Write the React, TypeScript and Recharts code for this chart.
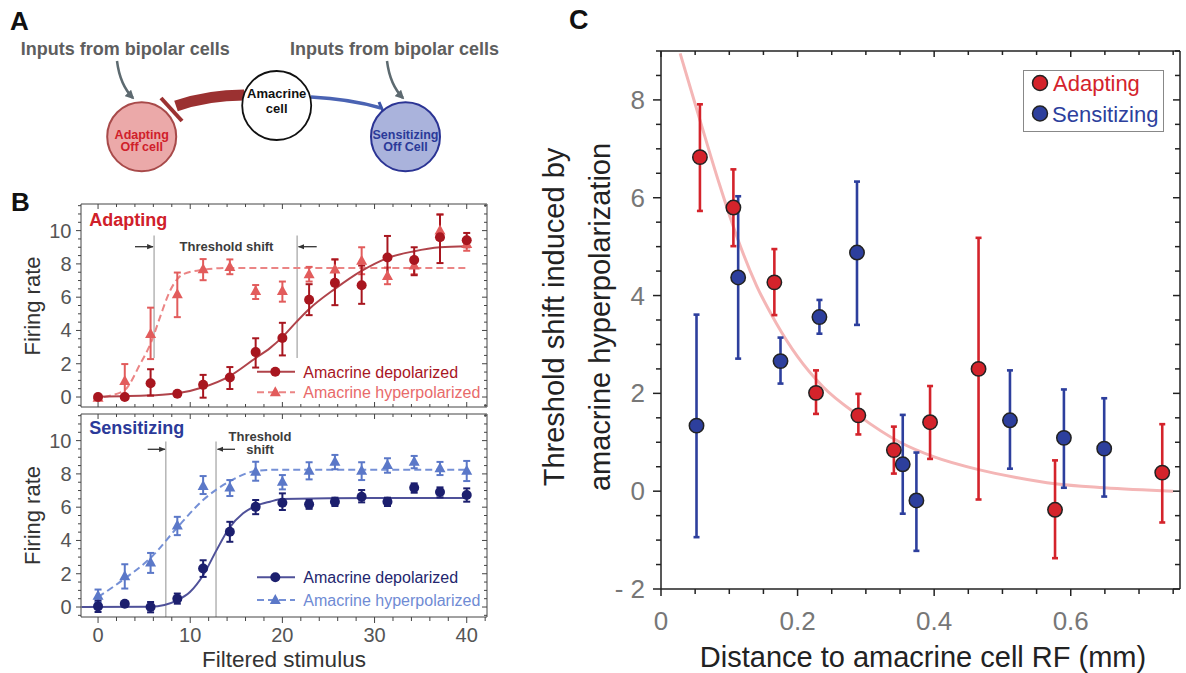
import React from "react"
import { ComposedChart, Scatter, Line, XAxis, YAxis, ErrorBar, ReferenceLine } from "recharts"

const FONT = "'Liberation Sans', Arial, Helvetica, sans-serif"

// ---------- Panel B: firing rate vs filtered stimulus ----------
const stim = [0, 2.9, 5.7, 8.6, 11.4, 14.3, 17.1, 20, 22.9, 25.7, 28.6, 31.4, 34.3, 37.1, 40]

// adapting cell
const adDepY = [0, 0.0, 0.83, 0.2, 0.73, 1.17, 2.7, 3.55, 5.85, 6.86, 6.72, 8.39, 8.23, 9.6, 9.42]
const adDepLo = [0, 0, 0.08, 0.1, -0.04, 0.48, 1.77, 2.5, 4.92, 5.52, 5.6, 7.18, 7.32, 8.05, 9.0]
const adDepHi = [0, 0, 1.67, 0.3, 1.33, 1.8, 3.53, 4.46, 6.78, 8.27, 7.9, 9.68, 9.0, 10.97, 9.86]
const adHypY = [-0.05, 0.97, 3.79, 6.17, 7.68, 7.82, 6.37, 6.37, 7.38, 7.66, 8.19, 7.28, 7.9, 10.0, 9.2]
const adHypLo = [-0.05, 0.02, 2.28, 4.8, 7.02, 7.38, 5.89, 5.73, 6.94, 6.98, 7.38, 6.78, 7.38, 9.44, 8.79]
const adHypHi = [-0.05, 1.98, 5.37, 7.48, 8.29, 8.27, 6.73, 6.94, 7.82, 8.27, 9.0, 7.78, 8.39, 10.97, 9.4]
const adDepFitX = [0, 5.7, 8.6, 11.4, 14.2, 17.1, 18.65, 20, 21.5, 22.85, 25.7, 28.5, 31.4, 34.2, 37.1, 40]
const adDepFitY = [0.02, 0.1, 0.22, 0.59, 1.23, 2.34, 2.94, 3.6, 4.5, 5.26, 6.5, 7.55, 8.35, 8.75, 9.0, 9.06]
const adHypFitX = [-0.54, 1.3, 2.9, 4.53, 5.8, 6.7, 7.8, 9.23, 11.04, 14.2, 20, 30, 40]
const adHypFitY = [-0.1, 0.08, 0.42, 1.94, 3.35, 4.76, 6.37, 7.38, 7.62, 7.76, 7.76, 7.76, 7.76]

// sensitizing cell
const seDepY = [0.04, 0.2, 0.0, 0.5, 2.31, 4.52, 6.02, 6.27, 6.17, 6.33, 6.63, 6.33, 7.17, 6.91, 6.73]
const seDepLo = [-0.3, 0.1, -0.32, 0.2, 1.81, 3.92, 5.58, 5.83, 5.9, 6.07, 6.29, 6.07, 6.87, 6.59, 6.33]
const seDepHi = [0.4, 0.3, 0.3, 0.81, 2.81, 5.12, 6.43, 6.83, 6.43, 6.57, 7.03, 6.57, 7.43, 7.19, 7.13]
const seHypY = [0.68, 1.85, 2.67, 4.9, 7.27, 7.19, 8.13, 7.53, 8.19, 8.73, 8.19, 8.54, 8.73, 8.34, 8.19]
const seHypLo = [0.3, 1.11, 2.05, 4.32, 6.79, 6.67, 7.59, 7.07, 7.67, 8.28, 7.63, 8.07, 8.34, 7.93, 7.57]
const seHypHi = [1.05, 2.57, 3.25, 5.42, 7.87, 7.63, 8.73, 7.93, 8.7, 9.14, 8.7, 8.94, 9.08, 8.72, 8.78]
const seDepFitX = [-1.8, 5.7, 7.2, 8.58, 9.97, 11.4, 12.86, 14.2, 15.74, 17.1, 18.65, 20, 30, 40]
const seDepFitY = [0.0, 0.02, 0.12, 0.4, 0.9, 1.91, 3.42, 4.72, 5.63, 6.07, 6.33, 6.49, 6.55, 6.55]
const seHypFitX = [0, 2.9, 5.8, 8.5, 11.4, 14.2, 17.1, 19.4, 25, 40]
const seHypFitY = [0.6, 1.71, 3.01, 4.72, 6.43, 7.53, 8.17, 8.25, 8.25, 8.25]

// threshold markers: [left x, right x]
const adShift = [6.08, 21.6]
const seShift = [7.35, 12.8]

const bTicksX = [0, 2, 4, 6, 8, 10, 12, 14, 16, 18, 20, 22, 24, 26, 28, 30, 32, 34, 36, 38, 40, 42]
const bTicksY = [-0.5, 0, 0.5, 1, 1.5, 2, 2.5, 3, 3.5, 4, 4.5, 5, 5.5, 6, 6.5, 7, 7.5, 8, 8.5, 9, 9.5, 10, 10.5, 11, 11.5]

// ---------- Panel C: threshold shift vs distance ----------
const adaptX = [0.057, 0.106, 0.166, 0.227, 0.289, 0.341, 0.394, 0.465, 0.577, 0.734]
const adaptY = [6.83, 5.8, 4.27, 2.01, 1.55, 0.84, 1.41, 2.5, -0.38, 0.38]
const adaptLo = [5.73, 5.01, 3.6, 1.58, 1.16, 0.36, 0.66, -0.17, -1.37, -0.64]
const adaptHi = [7.91, 6.58, 4.95, 2.47, 1.99, 1.32, 2.15, 5.18, 0.63, 1.37]
const sensX = [0.052, 0.113, 0.175, 0.232, 0.287, 0.354, 0.374, 0.511, 0.59, 0.649]
const sensY = [1.34, 4.37, 2.66, 3.56, 4.88, 0.55, -0.19, 1.45, 1.09, 0.87]
const sensLo = [-0.94, 2.71, 2.2, 3.22, 3.4, -0.46, -1.22, 0.46, 0.07, -0.11]
const sensHi = [3.61, 6.03, 3.14, 3.91, 6.33, 1.56, 0.79, 2.47, 2.08, 1.9]
const fitX = [0.028, 0.057, 0.085, 0.113, 0.14, 0.169, 0.2, 0.2375, 0.289, 0.35, 0.4, 0.465, 0.52, 0.577, 0.649, 0.75]
const fitY = [8.95, 7.59, 6.3, 5.13, 4.2, 3.43, 2.75, 2.13, 1.55, 1.0, 0.7, 0.44, 0.28, 0.15, 0.07, 0.0]

const cTicksX = [0, 0.05, 0.1, 0.15, 0.2, 0.25, 0.3, 0.35, 0.4, 0.45, 0.5, 0.55, 0.6, 0.65, 0.7, 0.75]
const cTicksY = [-2, -1.5, -1, -0.5, 0, 0.5, 1, 1.5, 2, 2.5, 3, 3.5, 4, 4.5, 5, 5.5, 6, 6.5, 7, 7.5, 8, 8.5, 9]

const withErr = (xs: number[], ys: number[], lo: number[], hi: number[]) =>
  xs.map((x, i) => ({ x, y: ys[i], err: [ys[i] - lo[i], hi[i] - ys[i]] }))
const curve = (xs: number[], ys: number[]) => xs.map((x, i) => ({ x, y: ys[i] }))

// ---------- tick helper ----------
type TickOpts = {
  side: "bottom" | "top" | "left" | "right"
  major: (v: number) => boolean
  majorLen: number
  minorLen: number
  out?: boolean
  label?: (v: number) => string
  gap?: number
  size?: number
  color?: string
  stroke?: string
  width?: number
}

const tickFor = (o: TickOpts) => (p: any) => {
  const v = p.payload.value
  const big = o.major(v)
  const len = big ? o.majorLen : o.minorLen
  const d = o.out ? 1 : -1
  const { x, y } = p
  const txt = o.label && big ? o.label(v) : null
  const ln = { stroke: o.stroke ?? "#444", strokeWidth: o.width ?? 1 }
  const tp = { fill: o.color ?? "#555", fontSize: o.size ?? 20, fontFamily: FONT }
  const gap = o.gap ?? 0
  if (o.side === "bottom")
    return (
      <g>
        <line x1={x} x2={x} y1={y} y2={y + d * len} {...ln} />
        {txt && <text x={x} y={y + gap} textAnchor="middle" dominantBaseline="central" {...tp}>{txt}</text>}
      </g>
    )
  if (o.side === "top") return <line x1={x} x2={x} y1={y} y2={y - d * len} {...ln} />
  if (o.side === "left")
    return (
      <g>
        <line x1={x} x2={x - d * len} y1={y} y2={y} {...ln} />
        {txt && <text x={x - gap} y={y} textAnchor="end" dominantBaseline="central" {...tp}>{txt}</text>}
      </g>
    )
  return <line x1={x} x2={x + d * len} y1={y} y2={y} {...ln} />
}

const dotShape = (fill: string, r: number, stroke = "none", sw = 0) => (p: any) =>
  <circle cx={p.cx} cy={p.cy} r={r} fill={fill} stroke={stroke} strokeWidth={sw} />
const triPath = (cx: number, cy: number) => `M${cx},${cy - 6} L${cx + 5.5},${cy + 4} L${cx - 5.5},${cy + 4} Z`
const triShape = (fill: string) => (p: any) => <path d={triPath(p.cx, p.cy)} fill={fill} />

const evenInt = (v: number) => Number.isInteger(v) && v % 2 === 0
const tens = (v: number) => v % 10 === 0

interface FiringProps {
  depol: any[]
  hyper: any[]
  depolFit: any[]
  hyperFit: any[]
  depolColor: string
  depolLine: string
  hyperColor: string
  hyperLine: string
  shift: number[]
  shiftLow: number
  shiftHigh: number
  height: number
  xAxisHeight: number
  showX: boolean
}

const FiringPanel = (p: FiringProps) => (
  <ComposedChart width={500} height={p.height} margin={{ top: 14, right: 13, bottom: 0, left: 0 }}>
    <XAxis
      type="number" dataKey="x" domain={[-1.85, 42.2]} allowDataOverflow ticks={bTicksX} interval={0}
      tickSize={0} tickMargin={0} tickLine={false} height={p.xAxisHeight} axisLine={{ stroke: "#444" }}
      tick={tickFor({ side: "bottom", major: tens, majorLen: p.showX ? 6 : 5, minorLen: p.showX ? 4 : 3, out: p.showX,
        label: p.showX ? (v) => String(v) : undefined, gap: 18, size: 20, color: "#555" })}
    />
    <XAxis
      xAxisId="t" orientation="top" mirror type="number" dataKey="x" domain={[-1.85, 42.2]} allowDataOverflow
      ticks={bTicksX} interval={0} tickSize={0} tickMargin={0} tickLine={false} axisLine={{ stroke: "#444" }}
      tick={tickFor({ side: "top", major: tens, majorLen: 5, minorLen: 3 })}
    />
    <YAxis
      type="number" dataKey="y" domain={[-0.6, 11.6]} allowDataOverflow ticks={bTicksY} interval={0}
      tickSize={0} tickMargin={0} tickLine={false} width={81} axisLine={{ stroke: "#444" }}
      tick={tickFor({ side: "left", major: evenInt, majorLen: 5, minorLen: 3, out: true, label: (v) => String(v), gap: 9.5, size: 20, color: "#555" })}
    />
    <YAxis
      yAxisId="r" orientation="right" mirror type="number" dataKey="y" domain={[-0.6, 11.6]} allowDataOverflow
      ticks={bTicksY} interval={0} tickSize={0} tickMargin={0} tickLine={false} axisLine={{ stroke: "#444" }}
      tick={tickFor({ side: "right", major: evenInt, majorLen: 5, minorLen: 3 })}
    />
    {p.shift.map((sx) => (
      <ReferenceLine key={sx} segment={[{ x: sx, y: p.shiftLow }, { x: sx, y: p.shiftHigh }]} stroke="#b5b5b5" strokeWidth={1.5} />
    ))}
    <Line data={p.hyperFit} dataKey="y" type="monotone" stroke={p.hyperLine} strokeWidth={2} strokeDasharray="7 4" dot={false} isAnimationActive={false} />
    <Line data={p.depolFit} dataKey="y" type="monotone" stroke={p.depolLine} strokeWidth={2} dot={false} isAnimationActive={false} />
    <Scatter data={p.hyper} shape={triShape(p.hyperColor)} isAnimationActive={false}>
      <ErrorBar dataKey="err" direction="y" width={3.5} stroke={p.hyperColor} strokeWidth={2} />
    </Scatter>
    <Scatter data={p.depol} shape={dotShape(p.depolColor, 5)} isAnimationActive={false}>
      <ErrorBar dataKey="err" direction="y" width={3.5} stroke={p.depolColor} strokeWidth={2} />
    </Scatter>
  </ComposedChart>
)

const RED = "#d4232b"
const BLUE = "#2d3f9d"
const fifth = (v: number) => Math.abs(v * 5 - Math.round(v * 5)) < 1e-9

const ShiftPanel = () => (
  <ComposedChart width={656} height={673} margin={{ top: 51, right: 6, bottom: 0, left: 0 }}>
    <XAxis
      type="number" dataKey="x" domain={[0, 0.76]} allowDataOverflow ticks={cTicksX} interval={0}
      tickSize={0} tickMargin={0} tickLine={false} height={84} axisLine={{ stroke: "#222", strokeWidth: 1.5 }}
      tick={tickFor({ side: "bottom", major: fifth, majorLen: 7, minorLen: 5, out: true, label: (v) => String(v),
        gap: 32, size: 26, color: "#777", stroke: "#222", width: 1.5 })}
    />
    <XAxis
      xAxisId="t" orientation="top" mirror type="number" dataKey="x" domain={[0, 0.76]} allowDataOverflow
      ticks={cTicksX} interval={0} tickSize={0} tickMargin={0} tickLine={false} axisLine={{ stroke: "#222", strokeWidth: 1.5 }}
      tick={tickFor({ side: "top", major: fifth, majorLen: 6, minorLen: 4, stroke: "#222", width: 1.5 })}
    />
    <YAxis
      type="number" dataKey="y" domain={[-2, 9]} allowDataOverflow ticks={cTicksY} interval={0}
      tickSize={0} tickMargin={0} tickLine={false} width={131} axisLine={{ stroke: "#222", strokeWidth: 1.5 }}
      tick={tickFor({ side: "left", major: evenInt, majorLen: 8, minorLen: 5, out: true,
        label: (v) => (v < 0 ? `- ${-v}` : String(v)), gap: 16, size: 26, color: "#777", stroke: "#222", width: 1.5 })}
    />
    <YAxis
      yAxisId="r" orientation="right" mirror type="number" dataKey="y" domain={[-2, 9]} allowDataOverflow
      ticks={cTicksY} interval={0} tickSize={0} tickMargin={0} tickLine={false} axisLine={{ stroke: "#222", strokeWidth: 1.5 }}
      tick={tickFor({ side: "right", major: evenInt, majorLen: 7, minorLen: 5, stroke: "#222", width: 1.5 })}
    />
    <Line data={curve(fitX, fitY)} dataKey="y" type="monotone" stroke="#f4b6b6" strokeWidth={3} dot={false} isAnimationActive={false} />
    <Scatter data={withErr(adaptX, adaptY, adaptLo, adaptHi)} shape={dotShape(RED, 7.2, "#222", 1.5)} isAnimationActive={false}>
      <ErrorBar dataKey="err" direction="y" width={3} stroke={RED} strokeWidth={2.6} />
    </Scatter>
    <Scatter data={withErr(sensX, sensY, sensLo, sensHi)} shape={dotShape(BLUE, 7.2, "#222", 1.5)} isAnimationActive={false}>
      <ErrorBar dataKey="err" direction="y" width={3} stroke={BLUE} strokeWidth={2.6} />
    </Scatter>
  </ComposedChart>
)

const LegendRows = ({ y1, y2, depolColor, depolLine, hyperColor, hyperLine, depolText, hyperText }: any) => (
  <g fontFamily={FONT} fontSize={16}>
    <line x1={257} x2={295} y1={y1} y2={y1} stroke={depolLine} strokeWidth={2} />
    <circle cx={275.3} cy={y1} r={5} fill={depolColor} />
    <text x={303.3} y={y1 + 5.8} fill={depolText}>Amacrine depolarized</text>
    <line x1={257} x2={295} y1={y2} y2={y2} stroke={hyperLine} strokeWidth={2} strokeDasharray="7 4" />
    <path d={triPath(275.3, y2)} fill={hyperColor} />
    <text x={303.3} y={y2 + 5.8} fill={hyperText}>Amacrine hyperpolarized</text>
  </g>
)

const Overlay = () => (
  <svg width={1186} height={673} style={{ position: "absolute", left: 0, top: 0, pointerEvents: "none" }} fontFamily={FONT}>
    <defs>
      <marker id="gh" viewBox="0 0 10 10" refX="8" refY="5" markerWidth="3.6" markerHeight="3.6" orient="auto">
        <path d="M0,0 L10,5 L0,10 z" fill="#5d6a70" />
      </marker>
      <marker id="bh" viewBox="0 0 10 10" refX="9" refY="5" markerWidth="5" markerHeight="5" orient="auto">
        <path d="M0,1 L10,5 L0,9 z" fill="#333" />
      </marker>
    </defs>

    {/* Panel A */}
    <text x={10} y={30} fontSize={26} fontWeight="bold" fill="#111">A</text>
    <text x={20.7} y={55} fontSize={18} fontWeight="bold" fill="#5e5e5e">Inputs from bipolar cells</text>
    <text x={290} y={55} fontSize={18} fontWeight="bold" fill="#5e5e5e">Inputs from bipolar cells</text>
    <path d="M117 61 Q 120 85 133 98" stroke="#5d6a70" strokeWidth={2.5} fill="none" markerEnd="url(#gh)" />
    <path d="M387 61 Q 390 85 403 98" stroke="#5d6a70" strokeWidth={2.5} fill="none" markerEnd="url(#gh)" />
    <path d="M244 95 Q 208 95 176 106" stroke="#9b3131" strokeWidth={11} fill="none" />
    <line x1={161} y1={98} x2={182} y2={121} stroke="#9b3131" strokeWidth={4} />
    <path d="M311 97 Q 350 99 381 108" stroke="#4a63b3" strokeWidth={3.5} fill="none" />
    <line x1={379} y1={102} x2={385} y2={116} stroke="#3d55a8" strokeWidth={3} />
    <circle cx={141.7} cy={136.7} r={34.5} fill="#eba9a9" stroke="#a84a4a" strokeWidth={2} />
    <circle cx={276.7} cy={105.5} r={34.5} fill="#fff" stroke="#111" strokeWidth={1.8} />
    <circle cx={405.5} cy={136.7} r={34.5} fill="#aab3dc" stroke="#2b3494" strokeWidth={2} />
    <g fontSize={12.5} fontWeight="bold" textAnchor="middle">
      <text x={141.7} y={138.5} fill="#d0202a">Adapting</text>
      <text x={141.7} y={150.7} fill="#d0202a">Off cell</text>
      <text x={276.7} y={97.5} fill="#111" fontSize={13}>Amacrine</text>
      <text x={276.7} y={113.3} fill="#111" fontSize={13}>cell</text>
      <text x={405.5} y={138.5} fill="#2b3a99">Sensitizing</text>
      <text x={405.5} y={150.7} fill="#2b3a99">Off Cell</text>
    </g>

    {/* Panel B */}
    <text x={11} y={211} fontSize={26} fontWeight="bold" fill="#111">B</text>
    <text x={89.3} y={225.7} fontSize={18} fontWeight="bold" fill="#d0202a">Adapting</text>
    <text x={89.3} y={434} fontSize={18} fontWeight="bold" fill="#2b3a99">Sensitizing</text>
    <text x={226.5} y={251} fontSize={13} fontWeight="bold" fill="#3c3c3c" textAnchor="middle">Threshold shift</text>
    <line x1={135} y1={246.7} x2={153} y2={246.7} stroke="#333" strokeWidth={1.3} markerEnd="url(#bh)" />
    <line x1={316.7} y1={246.7} x2={298.5} y2={246.7} stroke="#333" strokeWidth={1.3} markerEnd="url(#bh)" />
    <text x={260} y={441} fontSize={13} fontWeight="bold" fill="#3c3c3c" textAnchor="middle">Threshold</text>
    <text x={260} y={454} fontSize={13} fontWeight="bold" fill="#3c3c3c" textAnchor="middle">shift</text>
    <line x1={147.7} y1={449.3} x2={165} y2={449.3} stroke="#333" strokeWidth={1.3} markerEnd="url(#bh)" />
    <line x1={235} y1={449.3} x2={217.5} y2={449.3} stroke="#333" strokeWidth={1.3} markerEnd="url(#bh)" />
    <LegendRows y1={371.7} y2={392.3} depolColor="#a8161f" depolLine="#b0434a" hyperColor="#e25c5c" hyperLine="#eb8585" depolText="#a8161f" hyperText="#e86a6a" />
    <LegendRows y1={577.3} y2={600} depolColor="#1c1f6e" depolLine="#4f5199" hyperColor="#5b78c8" hyperLine="#7590d6" depolText="#23266e" hyperText="#6f8bd4" />
    <text transform="translate(40,306) rotate(-90)" fontSize={22} fill="#333" textAnchor="middle">Firing rate</text>
    <text transform="translate(40,515.5) rotate(-90)" fontSize={22} fill="#333" textAnchor="middle">Firing rate</text>
    <text x={284} y={666.7} fontSize={22.5} fill="#333" textAnchor="middle">Filtered stimulus</text>

    {/* Panel C */}
    <text x={569} y={29} fontSize={27} fontWeight="bold" fill="#111">C</text>
    <text transform="translate(564,317) rotate(-90)" fontSize={29} fill="#222" textAnchor="middle">Threshold shift induced by</text>
    <text transform="translate(610,317) rotate(-90)" fontSize={29} fill="#222" textAnchor="middle">amacrine hyperpolarization</text>
    <text x={923} y={666.7} fontSize={29} fill="#222" textAnchor="middle">Distance to amacrine cell RF (mm)</text>
    <rect x={1023.5} y={70.5} width={140} height={61} fill="#fff" stroke="#888" strokeWidth={1} />
    <circle cx={1040} cy={83} r={7.5} fill={RED} stroke="#222" strokeWidth={1.5} />
    <text x={1053} y={91} fontSize={22} fill={RED}>Adapting</text>
    <circle cx={1040} cy={113.5} r={7.5} fill={BLUE} stroke="#222" strokeWidth={1.5} />
    <text x={1052} y={121.5} fontSize={22} fill={BLUE}>Sensitizing</text>
  </svg>
)

export default function App() {
  return (
    <div style={{ position: "relative", width: 1186, height: 673, background: "#fff", overflow: "hidden" }}>
      <style>{"body{margin:0}"}</style>
      <div style={{ position: "absolute", left: 0, top: 190 }}>
        <FiringPanel
          depol={withErr(stim, adDepY, adDepLo, adDepHi)}
          hyper={withErr(stim, adHypY, adHypLo, adHypHi)}
          depolFit={curve(adDepFitX, adDepFitY)}
          hyperFit={curve(adHypFitX, adHypFitY)}
          depolColor="#a8161f" depolLine="#b0434a" hyperColor="#e25c5c" hyperLine="#eb8585"
          shift={adShift} shiftLow={2.34} shiftHigh={9.7}
          height={230} xAxisHeight={13} showX={false}
        />
      </div>
      <div style={{ position: "absolute", left: 0, top: 400 }}>
        <FiringPanel
          depol={withErr(stim, seDepY, seDepLo, seDepHi)}
          hyper={withErr(stim, seHypY, seHypLo, seHypHi)}
          depolFit={curve(seDepFitX, seDepFitY)}
          hyperFit={curve(seHypFitX, seHypFitY)}
          depolColor="#1c1f6e" depolLine="#4f5199" hyperColor="#5b78c8" hyperLine="#7590d6"
          shift={seShift} shiftLow={-0.6} shiftHigh={9.94}
          height={273} xAxisHeight={56} showX={true}
        />
      </div>
      <div style={{ position: "absolute", left: 530, top: 0 }}>
        <ShiftPanel />
      </div>
      <Overlay />
    </div>
  )
}
